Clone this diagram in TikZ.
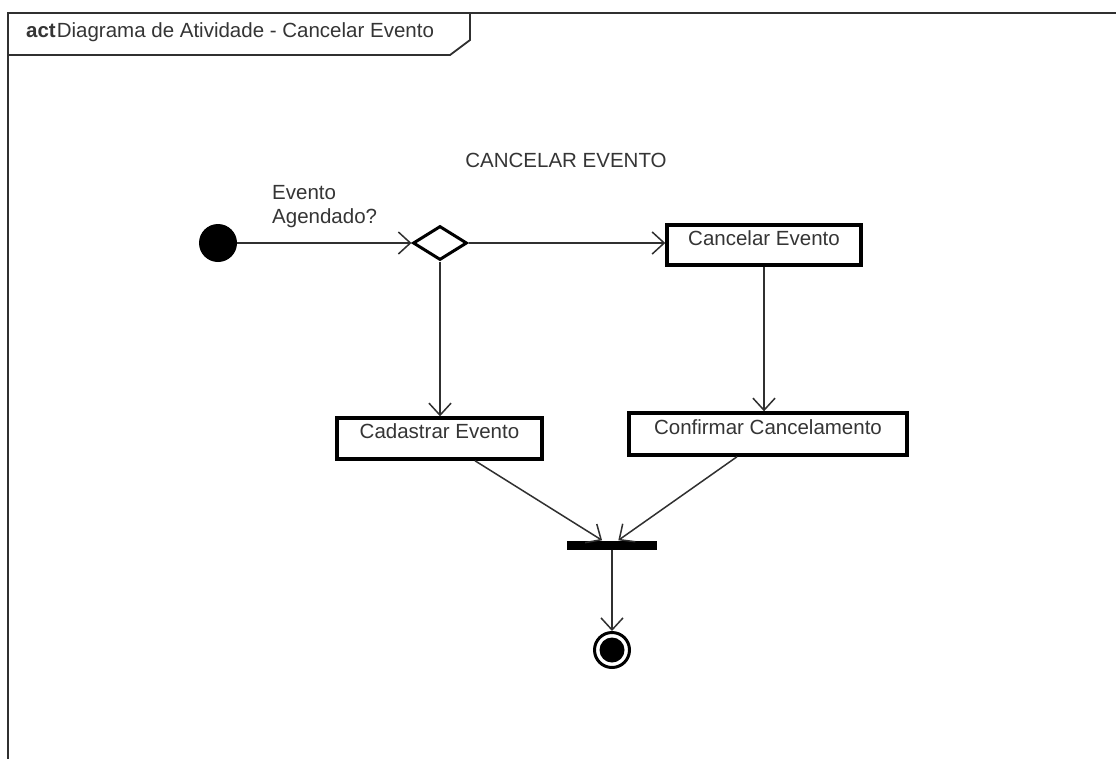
\documentclass[tikz,border=0pt]{standalone}
\usepackage{fontspec}
\setmainfont{Liberation Sans}
\usetikzlibrary{arrows.meta,shapes.geometric,calc}
\definecolor{lncol}{HTML}{303030}
\definecolor{txtcol}{HTML}{353535}
\begin{document}
\begin{tikzpicture}[x=1pt,y=-1pt,
  ln/.style={draw=lncol, line width=1.5pt},
  flow/.style={ln, -{Straight Barb[length=12pt,width=22pt,line width=1.5pt]}},
  actbox/.style={draw=black, line width=3.4pt, fill=white, inner sep=0pt,
    text=txtcol, font=\fontsize{20.5}{24}\selectfont, text height=6pt, text depth=6pt},
  lbl/.style={text=txtcol, font=\fontsize{20.5}{24}\selectfont, inner sep=0pt},
]
\useasboundingbox (0,0) rectangle (1116,758);
\fill[white] (0,0) rectangle (1116,758);

% diagram frame and name tab
\draw[ln, line width=1.8pt] (8,762) -- (8,13) -- (1120,13);
\draw[ln, line width=1.8pt] (8,55) -- (450,55) -- (470,40) -- (470,13);
\node[lbl, anchor=base west] (title) at (26,37)
  {\textbf{act}\kern1pt Diagrama de Atividade - Cancelar Evento};

\node[lbl] (heading) at (566,160) {CANCELAR EVENTO};

% nodes
\node[circle, fill=black, minimum size=38pt, inner sep=0pt] (init) at (218,243) {};
\node[diamond, draw=black, line width=3pt, fill=white, inner sep=0pt,
      minimum width=54pt, minimum height=34pt] (dec) at (440,243) {};
\node[actbox, minimum width=194pt, minimum height=40pt] (cancel) at (764,245) {Cancelar Evento};
\node[actbox, minimum width=205pt, minimum height=41pt] (cad) at (439.5,438.5) {Cadastrar Evento};
\node[actbox, minimum width=278pt, minimum height=42pt] (confirm) at (768,434) {Confirmar Cancelamento};
\node[fill=black, minimum width=90pt, minimum height=9pt, inner sep=0pt] (join) at (612,545) {};
\node[circle, draw=black, line width=3pt, fill=white, minimum size=35pt, inner sep=0pt] (final) at (612,650) {};
\node[circle, fill=black, minimum size=25pt, inner sep=0pt] (finaldot) at (final.center) {};

\node[lbl, anchor=north west, align=left] (guard) at (272,185) {Evento\\Agendado?};

% flows
\draw[flow] (init.east) -- (dec.west);
\draw[flow] (dec.east) -- (dec.east -| cancel.west);
\draw[flow] (dec.south) -- (dec.south |- cad.north);
\draw[flow] (cancel.south) -- (cancel.south |- confirm.north);
\draw[flow] ($(cad.south west)!0.67!(cad.south east)$) -- ($(join.north west)!0.39!(join.north east)$);
\draw[flow] ($(confirm.south west)!0.39!(confirm.south east)$) -- ($(join.north west)!0.57!(join.north east)$);
\draw[flow] (join.south) -- (final.north);
\end{tikzpicture}
\end{document}
